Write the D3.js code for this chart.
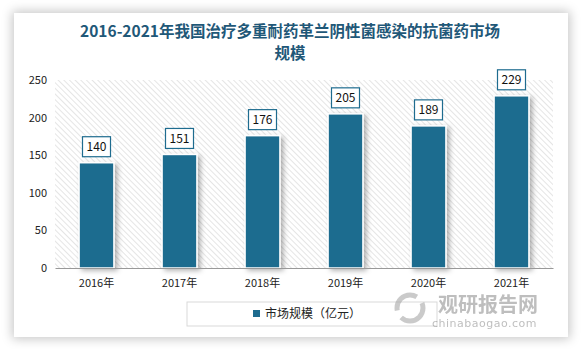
<!DOCTYPE html>
<html><head><meta charset="utf-8">
<script src="https://cdn.jsdelivr.net/npm/d3@7/dist/d3.min.js"></script>
<style>
html,body{margin:0;padding:0;background:#fff;width:583px;height:349px;overflow:hidden}
#card{position:absolute;left:14px;top:13px;width:554px;height:324px;background:#fff;box-shadow:0 0 10px 2px rgba(0,0,0,0.22)}
svg{position:absolute;left:0;top:0}
</style></head><body>
<div id="card"></div>
<svg id="chart" width="583" height="349"></svg>
<script>
const categories = ["2016年","2017年","2018年","2019年","2020年","2021年"];
const values = [140,151,176,205,189,229];
const yTicks = [0,50,100,150,200,250];
const seriesName = "市场规模（亿元）";
const titleLines = ["2016-2021年我国治疗多重耐药革兰阴性菌感染的抗菌药市场","规模"];

(function(){
const svg = d3.select("#chart");
const font = "'Noto Sans CJK SC', 'DejaVu Sans', sans-serif";
const barColor = "#1e6c8f";

const pL = 55, pR = 553, pT = 80, pB = 268;
const x = d3.scaleBand().domain(categories).range([pL, pR]).paddingInner(0.58).paddingOuter(0.29);
const y = d3.scaleLinear().domain([0, 250]).range([pB, pT]);

const defs = svg.append("defs");
const pat = defs.append("pattern").attr("id","hatch").attr("patternUnits","userSpaceOnUse")
  .attr("width",4).attr("height",4).attr("patternTransform","rotate(-45)");
pat.append("rect").attr("width",4).attr("height",4).attr("fill","#fff");
pat.append("line").attr("x1",0).attr("y1",0).attr("x2",0).attr("y2",4).attr("stroke","#d4d4d4").attr("stroke-width",1.2);
const sh = defs.append("filter").attr("id","shadow").attr("x","-30%").attr("y","-10%").attr("width","160%").attr("height","130%");
sh.append("feDropShadow").attr("dx",3).attr("dy",2).attr("stdDeviation",2.5).attr("flood-color","#000").attr("flood-opacity",0.3);

svg.append("g").selectAll("text").data(titleLines).join("text")
  .attr("x", 290).attr("y",(d,i)=>37 + i*22).attr("text-anchor","middle")
  .attr("font-family",font).attr("font-weight","bold").attr("font-size",15.5)
  .attr("fill","#1f5878").text(d=>d);

svg.append("rect").attr("x",pL).attr("y",pT).attr("width",pR-pL).attr("height",pB-pT).attr("fill","url(#hatch)");

svg.append("g").selectAll("rect").data(values).join("rect")
  .attr("x",(d,i)=>x(categories[i])).attr("width",x.bandwidth())
  .attr("y",d=>y(d)).attr("height",d=>pB-y(d))
  .attr("fill",barColor).attr("stroke","#fff").attr("stroke-width",1.5)
  .attr("filter","url(#shadow)");

const yAxis = d3.axisLeft(y).tickValues(yTicks).tickSize(0).tickPadding(8);
const gy = svg.append("g").attr("transform",`translate(${pL},0)`).call(yAxis);
gy.select(".domain").remove();
gy.selectAll("text").attr("font-family",font).attr("font-size",11).attr("fill","#222");

const xAxis = d3.axisBottom(x).tickSize(0).tickPadding(11);
const gx = svg.append("g").attr("transform",`translate(0,${pB})`).call(xAxis);
gx.select(".domain").attr("stroke","#999").attr("stroke-width",1.2);
gx.selectAll("text").attr("font-family",font).attr("font-size",11).attr("fill","#222");

const lab = svg.append("g").selectAll("g").data(values).join("g")
  .attr("transform",(d,i)=>`translate(${x(categories[i])+x.bandwidth()/2},${y(d)-16})`);
lab.append("rect").attr("x",-14).attr("y",-10).attr("width",28).attr("height",20)
  .attr("fill","#fff").attr("stroke","#1e6c8f").attr("stroke-width",1.2);
lab.append("text").attr("text-anchor","middle").attr("dy","0.36em")
  .attr("font-family",font).attr("font-size",12).attr("fill","#111").text(d=>d);

const lg = svg.append("g");
lg.append("rect").attr("x",187).attr("y",302).attr("width",250).attr("height",24).attr("fill","#fff").attr("stroke","#d9d9d9");
lg.append("rect").attr("x",253).attr("y",310).attr("width",7).attr("height",7).attr("fill",barColor);
lg.append("text").attr("x",265).attr("y",314).attr("dy","0.36em").attr("font-family",font).attr("font-size",12).attr("fill","#222").text(seriesName);

const wm = svg.append("g").attr("opacity",0.55);
wm.append("text").attr("x",438).attr("y",312).attr("font-family",font).attr("font-weight","bold").attr("font-size",20).attr("fill","#8a8a8a").text("观研报告网");
wm.append("text").attr("x",432).attr("y",327).attr("font-family","'DejaVu Sans', sans-serif").attr("font-size",11).attr("fill","#8a8a8a").attr("letter-spacing",0.5).text("chinabaogao.com");
wm.append("circle").attr("cx",410).attr("cy",308).attr("r",13).attr("fill","none").attr("stroke","#a0a0a0").attr("stroke-width",5).attr("stroke-dasharray","30 8");
})();
</script>
</body></html>
